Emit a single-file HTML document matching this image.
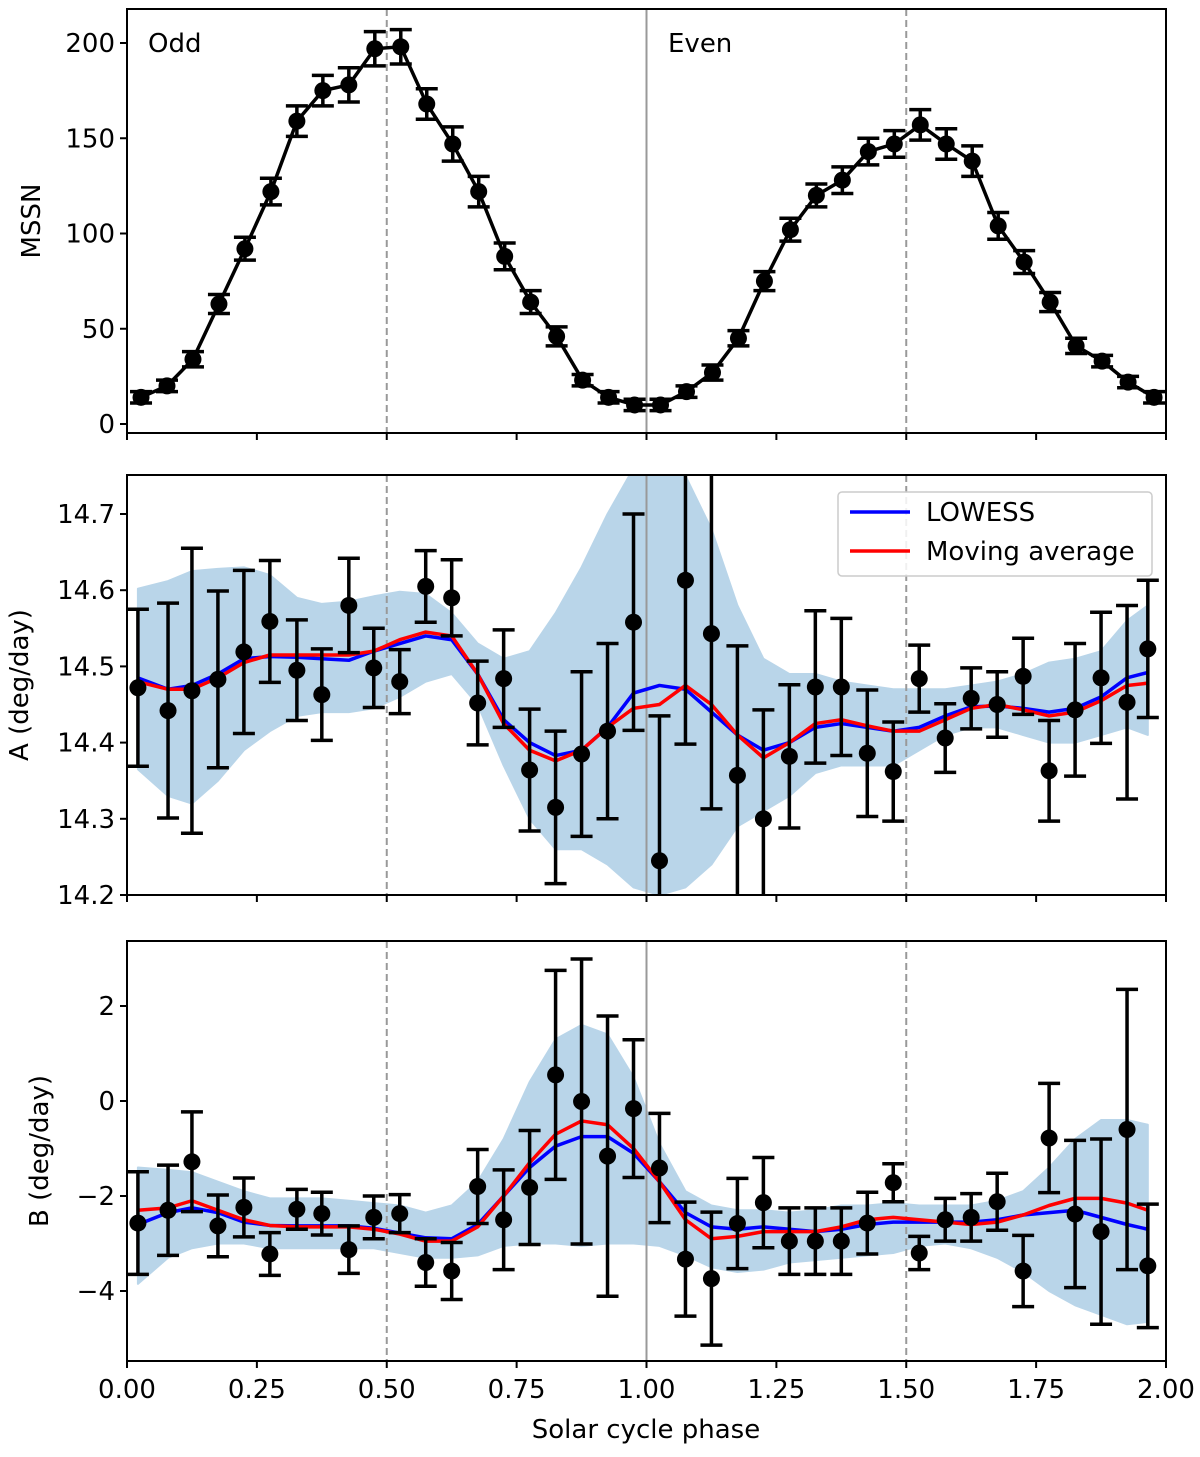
<!DOCTYPE html>
<html><head><meta charset="utf-8"><style>
body{margin:0;background:#fff;}
svg text{font-family:"DejaVu Sans","Liberation Sans",sans-serif;fill:#000;}
</style></head><body>
<svg id="chart" width="1200" height="1452" viewBox="0 0 1200 1452" xmlns="http://www.w3.org/2000/svg"></svg>
<script>
// Phase positions (solar cycle phase)
const phases = [0.021,0.079,0.125,0.175,0.225,0.275,0.327,0.375,0.427,0.475,0.525,0.575,0.625,0.675,0.725,0.775,0.825,0.875,0.925,0.975,1.025,1.075,1.125,1.175,1.225,1.275,1.325,1.375,1.425,1.475,1.525,1.575,1.625,1.675,1.725,1.775,1.825,1.875,1.925,1.965];
const phasesTop = [0.027,0.077,0.127,0.177,0.227,0.277,0.327,0.377,0.427,0.477,0.527,0.577,0.627,0.677,0.727,0.777,0.827,0.877,0.927,0.977,1.027,1.077,1.127,1.177,1.227,1.277,1.327,1.377,1.427,1.477,1.527,1.577,1.627,1.677,1.727,1.777,1.827,1.877,1.927,1.977];
// MSSN
const mssn = [14,20,34,63,92,122,159,175,178,197,198,168,147,122,88,64,46,23,14,10,10,17,27,45,75,102,120,128,143,147,157,147,138,104,85,64,41,33,22,14];
const mssnErr = [3,3,4,5,6,7,8,8,9,9,9,8,9,8,7,6,5,3,3,3,3,3,4,4,5,6,6,7,7,7,8,8,8,7,6,5,4,3,3,3];
// A coefficient
const aVals = [14.472,14.442,14.468,14.483,14.519,14.559,14.495,14.463,14.58,14.498,14.48,14.605,14.59,14.452,14.484,14.364,14.315,14.385,14.415,14.558,14.245,14.613,14.543,14.357,14.30,14.382,14.473,14.473,14.386,14.362,14.484,14.406,14.458,14.45,14.487,14.363,14.443,14.485,14.453,14.523];
const aErr = [0.103,0.141,0.187,0.116,0.107,0.08,0.066,0.06,0.062,0.052,0.042,0.047,0.05,0.055,0.064,0.08,0.1,0.108,0.115,0.142,0.19,0.215,0.23,0.17,0.143,0.094,0.1,0.09,0.083,0.065,0.044,0.045,0.04,0.043,0.05,0.066,0.087,0.086,0.127,0.09];
const aLowess = [14.485,14.47,14.475,14.49,14.51,14.513,14.512,14.51,14.508,14.52,14.53,14.54,14.535,14.49,14.43,14.40,14.383,14.39,14.42,14.465,14.475,14.47,14.44,14.41,14.39,14.40,14.42,14.425,14.42,14.415,14.42,14.435,14.447,14.448,14.445,14.44,14.445,14.46,14.485,14.492];
const aMA = [14.48,14.47,14.47,14.485,14.505,14.515,14.515,14.515,14.515,14.52,14.535,14.545,14.54,14.49,14.425,14.39,14.376,14.39,14.42,14.445,14.45,14.475,14.45,14.41,14.38,14.40,14.425,14.43,14.422,14.415,14.415,14.43,14.445,14.45,14.443,14.435,14.44,14.455,14.475,14.478];
const aUpper = [14.602,14.612,14.625,14.628,14.63,14.62,14.59,14.582,14.585,14.592,14.598,14.595,14.57,14.53,14.51,14.52,14.57,14.63,14.70,14.76,14.78,14.75,14.68,14.58,14.51,14.49,14.49,14.48,14.475,14.47,14.47,14.47,14.475,14.48,14.49,14.505,14.51,14.52,14.56,14.58];
const aLower = [14.365,14.33,14.32,14.35,14.39,14.415,14.435,14.44,14.44,14.445,14.46,14.48,14.49,14.45,14.37,14.30,14.26,14.26,14.24,14.21,14.20,14.21,14.24,14.29,14.31,14.33,14.36,14.37,14.37,14.37,14.39,14.41,14.42,14.42,14.41,14.40,14.40,14.41,14.42,14.41];
// B coefficient
const bVals = [-2.57,-2.3,-1.28,-2.63,-2.24,-3.22,-2.28,-2.37,-3.13,-2.45,-2.37,-3.4,-3.58,-1.8,-2.5,-1.82,0.55,-0.01,-1.16,-0.16,-1.41,-3.33,-3.74,-2.58,-2.14,-2.95,-2.95,-2.95,-2.57,-1.72,-3.2,-2.5,-2.45,-2.12,-3.58,-0.78,-2.38,-2.75,-0.6,-3.47];
const bErr = [1.08,0.95,1.05,0.65,0.62,0.45,0.42,0.45,0.5,0.45,0.4,0.5,0.6,0.78,1.05,1.2,2.2,3.0,2.95,1.45,1.15,1.2,1.4,0.95,0.95,0.7,0.7,0.7,0.65,0.4,0.35,0.45,0.5,0.6,0.75,1.15,1.55,1.95,2.95,1.3];
const bLowess = [-2.6,-2.35,-2.25,-2.35,-2.55,-2.62,-2.63,-2.63,-2.63,-2.68,-2.78,-2.88,-2.9,-2.6,-2.0,-1.4,-0.95,-0.75,-0.75,-1.1,-1.7,-2.35,-2.65,-2.7,-2.65,-2.7,-2.75,-2.7,-2.6,-2.55,-2.55,-2.55,-2.55,-2.5,-2.4,-2.35,-2.3,-2.45,-2.6,-2.7];
const bMA = [-2.3,-2.25,-2.1,-2.3,-2.5,-2.62,-2.65,-2.65,-2.65,-2.7,-2.8,-2.95,-2.95,-2.65,-2.0,-1.3,-0.7,-0.42,-0.5,-1.0,-1.7,-2.5,-2.9,-2.85,-2.75,-2.75,-2.75,-2.65,-2.5,-2.45,-2.5,-2.55,-2.6,-2.55,-2.4,-2.2,-2.05,-2.05,-2.15,-2.3];
const bUpper = [-1.4,-1.45,-1.5,-1.7,-1.9,-2.05,-2.05,-2.05,-2.1,-2.15,-2.2,-2.35,-2.2,-1.7,-0.8,0.4,1.3,1.6,1.4,0.5,-0.9,-1.9,-2.2,-2.3,-2.3,-2.35,-2.3,-2.2,-2.2,-2.15,-2.2,-2.2,-2.2,-2.1,-1.9,-1.4,-0.8,-0.4,-0.4,-0.5];
const bLower = [-3.85,-3.3,-3.1,-3.0,-3.0,-3.1,-3.1,-3.1,-3.1,-3.1,-3.2,-3.3,-3.3,-3.25,-3.05,-3.0,-3.0,-3.05,-3.0,-3.0,-3.05,-3.25,-3.5,-3.6,-3.55,-3.4,-3.35,-3.3,-3.25,-3.2,-3.05,-3.0,-3.1,-3.3,-3.6,-4.0,-4.3,-4.5,-4.7,-4.65];
// Ticks
const xTicks = [0,0.25,0.5,0.75,1.0,1.25,1.5,1.75,2.0];
const xTickLabels = ["0.00","0.25","0.50","0.75","1.00","1.25","1.50","1.75","2.00"];
const mssnTicks = [0,50,100,150,200];
const aTicks = [14.2,14.3,14.4,14.5,14.6,14.7];
const bTicks = [-4,-2,0,2];
const bTickLabels = ["\u22124","\u22122","0","2"];

const NS="http://www.w3.org/2000/svg";
const svg=document.getElementById('chart');
function mk(tag,attrs,parent){const e=document.createElementNS(NS,tag);for(const k in attrs)e.setAttribute(k,attrs[k]);(parent||svg).appendChild(e);return e;}
const X0=127,X1=1166;
const FS=26;
function xs(p){return X0+(X1-X0)*p/2;}

const panels=[
 {name:'mssn',top:9,bot:433,y0:424,yv0:0,y1:43,yv1:200},
 {name:'a',top:475,bot:895,y0:895,yv0:14.2,y1:514,yv1:14.7},
 {name:'b',top:941,bot:1361,y0:1291,yv0:-4,y1:1006,yv1:2}
];
panels.forEach(p=>{p.ys=v=>p.y0+(v-p.yv0)*(p.y1-p.y0)/(p.yv1-p.yv0);});

const defs=mk('defs',{});
panels.forEach((p,i)=>{const c=mk('clipPath',{id:'clip'+i},defs);mk('rect',{x:X0,y:p.top,width:X1-X0,height:p.bot-p.top},c);});

function drawPanel(i,p,opts){
 const g=mk('g',{});
 
 
 const cg=mk('g',{'clip-path':'url(#clip'+i+')'},g);
 if(opts.upper){
  let d='';
  opts.ph.forEach((ph,k)=>{d+=(k?'L':'M')+xs(ph)+','+p.ys(opts.upper[k]);});
  for(let k=opts.ph.length-1;k>=0;k--)d+='L'+xs(opts.ph[k])+','+p.ys(opts.lower[k]);
  const band=mk('path',{d:d+'Z',fill:'#b9d5e9',stroke:'#b9d5e9',"stroke-width":2,"stroke-linejoin":'round'},cg);
  
  
 }
 [[0.5,true],[1.0,false],[1.5,true]].forEach(([v,dash])=>{
  const l=mk('line',{x1:xs(v),x2:xs(v),y1:p.top,y2:p.bot,stroke:'#999',"stroke-width":2,"stroke-dasharray":dash?'7,4':'none'},cg);
  
  
 });
 function curve(vals,color,name){
  const pts=opts.ph.map((ph,k)=>xs(ph)+','+p.ys(vals[k])).join(' ');
  const pl=mk('polyline',{points:pts,fill:'none',stroke:color,"stroke-width":3.5,"stroke-linejoin":'round'},cg);
  
  
 }
 if(opts.lowess){curve(opts.lowess,'#0000ff','lowess-curve');curve(opts.ma,'#ff0000','moving-average-curve');}
 if(opts.line){curve(opts.vals,'#000','mssn-line');}
 opts.vals.forEach((v,k)=>{
  const x=xs(opts.ph[k]);const yt=p.ys(v+opts.err[k]),yb=p.ys(v-opts.err[k]);
  const eg=mk('g',{stroke:'#000',"stroke-width":3.5},cg);
  
  
  mk('line',{x1:x,x2:x,y1:yt,y2:yb},eg);
  mk('line',{x1:x-11,x2:x+11,y1:yt,y2:yt},eg);
  mk('line',{x1:x-11,x2:x+11,y1:yb,y2:yb},eg);
  const c=mk('circle',{cx:x,cy:p.ys(v),r:8.5,fill:'#000'},cg);
  
  
 });
 const fr=mk('rect',{x:X0,y:p.top,width:X1-X0,height:p.bot-p.top,fill:'none',stroke:'#000',"stroke-width":2},g);
 
 
 xTicks.forEach((t,k)=>{
  mk('line',{x1:xs(t),x2:xs(t),y1:p.bot,y2:p.bot+7,stroke:'#000',"stroke-width":2},g);
  if(opts.xlabels){const tx=mk('text',{x:xs(t),y:p.bot+37,"font-size":FS,"text-anchor":'middle'},g);tx.textContent=xTickLabels[k];
   
   }
 });
 opts.yticks.forEach((t,k)=>{
  const y=p.ys(t);
  mk('line',{x1:X0-7,x2:X0,y1:y,y2:y,stroke:'#000',"stroke-width":2},g);
  const tx=mk('text',{x:X0-12,y:y+9,"font-size":FS,"text-anchor":'end'},g);
  tx.textContent=opts.ylabels[k];
  
  
 });
 const yl=mk('text',{x:0,y:0,"font-size":FS,"text-anchor":'middle',transform:`translate(${opts.ylx},${(p.top+p.bot)/2}) rotate(-90)`},g);
 yl.textContent=opts.ytitle;
 
 
}

drawPanel(0,panels[0],{ph:phasesTop,vals:mssn,err:mssnErr,line:true,yticks:mssnTicks,ylabels:mssnTicks.map(String),ytitle:'MSSN',ylx:40});
drawPanel(1,panels[1],{ph:phases,vals:aVals,err:aErr,lowess:aLowess,ma:aMA,upper:aUpper,lower:aLower,yticks:aTicks,ylabels:aTicks.map(t=>t.toFixed(1)),ytitle:'A (deg/day)',ylx:28});
drawPanel(2,panels[2],{ph:phases,vals:bVals,err:bErr,lowess:bLowess,ma:bMA,upper:bUpper,lower:bLower,yticks:bTicks,ylabels:bTickLabels,ytitle:'B (deg/day)',ylx:48,xlabels:true});

const odd=mk('text',{x:148,y:52,"font-size":FS});odd.textContent='Odd';


const even=mk('text',{x:668,y:52,"font-size":FS});even.textContent='Even';


const xt=mk('text',{x:646,y:1438,"font-size":FS,"text-anchor":'middle'});xt.textContent='Solar cycle phase';



// legend
const lg=mk('g',{});


mk('rect',{x:838,y:492,width:314,height:84,rx:4,fill:'#fff',"fill-opacity":0.85,stroke:'#ccc',"stroke-width":1.5},lg);
[['LOWESS','#0000ff',512],['Moving average','#ff0000',551]].forEach(([t,c,y])=>{
 const e=mk('g',{},lg);
 
 
 mk('line',{x1:850,x2:910,y1:y,y2:y,stroke:c,"stroke-width":3.5},e);
 const tx=mk('text',{x:926,y:y+9,"font-size":FS},e);tx.textContent=t;
});
</script>
</body></html>
